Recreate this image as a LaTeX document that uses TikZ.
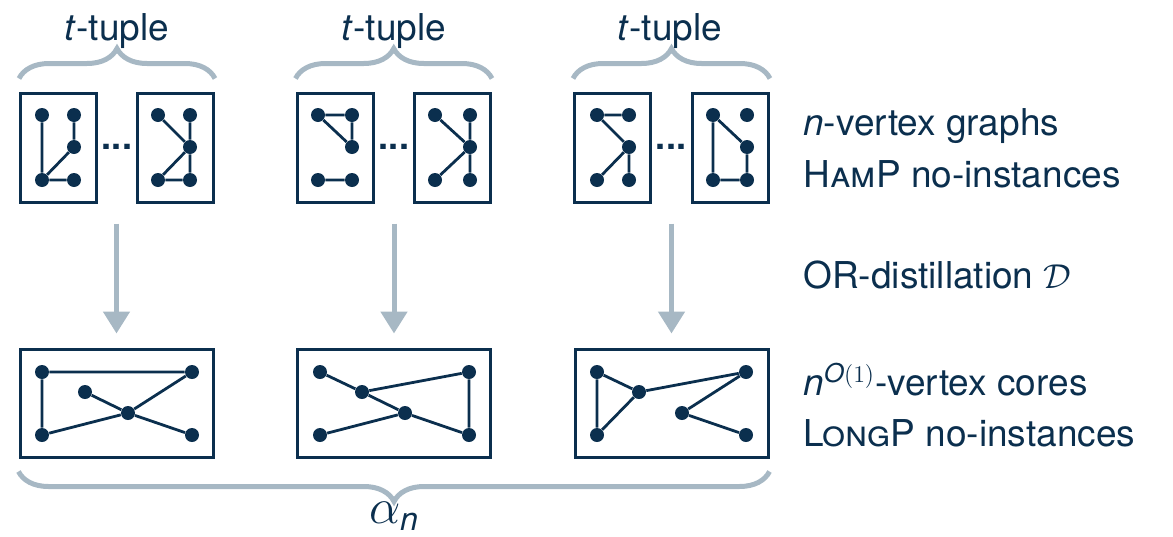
\documentclass[tikz,border=0pt]{standalone}
\usepackage{amsmath}
\usepackage{fontspec}
\setmainfont{TeX Gyre Heros}
\usetikzlibrary{arrows.meta,positioning,decorations.pathreplacing}
\definecolor{cInk}{HTML}{0B2F4E}
\definecolor{cFlow}{HTML}{A7B8C4}

\begin{document}
\begin{tikzpicture}[
    x=0.5pt, y=-0.5pt,
    font=\fontsize{18.5}{22}\selectfont,
    every node/.style={text=cInk},
    inst/.style={draw=cInk, line width=1.5pt, inner sep=0pt,
                 minimum width=38pt, minimum height=54.5pt},
    core/.style={inst, minimum width=96.5pt, minimum height=54pt},
    vx/.style={circle, fill=cInk, inner sep=0pt, minimum size=7pt},
    link/.style={draw=cInk, line width=1.4pt},
    flow/.style={draw=cFlow, line width=2.5pt, -{Triangle[width=13pt,length=11pt]}},
    brc/.style={draw=cFlow, line width=2.5pt, decorate,
                decoration={brace, amplitude=15pt}},
    dots/.style={font=\fontsize{18}{21}\selectfont\bfseries},
    lbl/.style={anchor=base west, inner sep=0pt}
]
\useasboundingbox (0,0) rectangle (1173,536);

% --- t-tuples of input graphs ---
\node[inst] (ham1) at (58.5,147.5) {};
\node[inst] (ham2) at (175.5,147.5) {};
\node[inst] (ham3) at (335,147.5) {};
\node[inst] (ham4) at (452.5,147.5) {};
\node[inst] (ham5) at (612.5,147.5) {};
\node[inst] (ham6) at (730.5,147.5) {};
\node[dots] (dots1) at (117,147) {...};
\node[dots] (dots2) at (394,147) {...};
\node[dots] (dots3) at (671,147) {...};

% vertices of the small graphs
\node[vx] (a1) at (42,115) {}; \node[vx] (a2) at (74,115) {}; \node[vx] (a3) at (74,147) {};
\node[vx] (a4) at (42,180) {}; \node[vx] (a5) at (74,180) {};
\node[vx] (b1) at (158,115) {}; \node[vx] (b2) at (190,115) {}; \node[vx] (b3) at (190,147) {};
\node[vx] (b4) at (158,180) {}; \node[vx] (b5) at (190,180) {};
\node[vx] (c1) at (318,115) {}; \node[vx] (c2) at (352,115) {}; \node[vx] (c3) at (352,147) {};
\node[vx] (c4) at (318,180) {}; \node[vx] (c5) at (352,180) {};
\node[vx] (d1) at (435,115) {}; \node[vx] (d2) at (470,115) {}; \node[vx] (d3) at (470,147) {};
\node[vx] (d4) at (435,180) {}; \node[vx] (d5) at (470,180) {};
\node[vx] (e1) at (597,115) {}; \node[vx] (e2) at (629,115) {}; \node[vx] (e3) at (629,147) {};
\node[vx] (e4) at (597,180) {}; \node[vx] (e5) at (629,180) {};
\node[vx] (f1) at (713,115) {}; \node[vx] (f2) at (747,115) {}; \node[vx] (f3) at (747,147) {};
\node[vx] (f4) at (713,180) {}; \node[vx] (f5) at (747,180) {};

\draw[link] (a1) -- (a4) (a2) -- (a3) (a3) -- (a4) (a4) -- (a5);
\draw[link] (b1) -- (b3) (b2) -- (b3) (b3) -- (b5) (b3) -- (b4) (b4) -- (b5);
\draw[link] (c1) -- (c2) (c1) -- (c3) (c2) -- (c3) (c4) -- (c5);
\draw[link] (d1) -- (d3) (d2) -- (d3) (d3) -- (d5) (d3) -- (d4);
\draw[link] (e1) -- (e2) (e1) -- (e3) (e3) -- (e4) (e3) -- (e5);
\draw[link] (f1) -- (f3) (f1) -- (f4) (f3) -- (f5) (f4) -- (f5);

% --- distilled cores ---
\node[core] (core1) at (116.5,403) {};
\node[core] (core2) at (394,403) {};
\node[core] (core3) at (671.5,403) {};

\node[vx] (p1) at (42,372) {}; \node[vx] (p2) at (192,372) {}; \node[vx] (p3) at (85,392) {};
\node[vx] (p4) at (128,413) {}; \node[vx] (p5) at (42,435) {}; \node[vx] (p6) at (192,435) {};
\node[vx] (q1) at (320,372) {}; \node[vx] (q2) at (469,372) {}; \node[vx] (q3) at (362,392) {};
\node[vx] (q4) at (405,413) {}; \node[vx] (q5) at (320,435) {}; \node[vx] (q6) at (469,435) {};
\node[vx] (r1) at (597,372) {}; \node[vx] (r2) at (746,372) {}; \node[vx] (r3) at (639,392) {};
\node[vx] (r4) at (682,413) {}; \node[vx] (r5) at (597,435) {}; \node[vx] (r6) at (746,435) {};

\draw[link] (p1) -- (p2) (p1) -- (p5) (p5) -- (p4) (p4) -- (p2) (p3) -- (p4) (p4) -- (p6);
\draw[link] (q1) -- (q3) (q3) -- (q4) (q4) -- (q6) (q6) -- (q2) (q2) -- (q3) (q4) -- (q5);
\draw[link] (r1) -- (r5) (r1) -- (r3) (r3) -- (r5) (r3) -- (r2) (r2) -- (r4) (r4) -- (r6);

% --- braces ---
\draw[brc] ([yshift=6.5pt]ham1.north west) -- ([yshift=6.5pt]ham2.north east);
\draw[brc] ([yshift=6.5pt]ham3.north west) -- ([yshift=6.5pt]ham4.north east);
\draw[brc] ([yshift=6.5pt]ham5.north west) -- ([yshift=6.5pt]ham6.north east);
\draw[brc] ([yshift=-6.5pt]core3.south east) -- ([yshift=-6.5pt]core1.south west);

\node[anchor=base] (tup1) at (117,40) {\textit{t}-tuple};
\node[anchor=base] (tup2) at (394,40) {\textit{t}-tuple};
\node[anchor=base] (tup3) at (670,40) {\textit{t}-tuple};
\node[anchor=base, font=\fontsize{23}{26}\selectfont] (alph) at (394,523)
  {$\alpha_{\textit{n}}$};

% --- distillation arrows ---
\draw[flow] ([yshift=-10pt]ham1.south -| core1.north) -- ([yshift=7pt]core1.north);
\draw[flow] ([yshift=-10pt]ham3.south -| core2.north) -- ([yshift=7pt]core2.north);
\draw[flow] ([yshift=-10pt]ham5.south -| core3.north) -- ([yshift=7pt]core3.north);

% --- side labels ---
\node[lbl] (in1) at (803,135) {\textit{n}-vertex graphs};
\node[lbl] (in2) at (803,187) {\textsc{Ham}P no-instances};
\node[lbl] (dist) at (803,288) {OR-distillation $\mathcal{D}$};
\node[lbl] (out1) at (803,395) {$\textit{n}^{\textit{O}(1)}$-vertex cores};
\node[lbl] (out2) at (803,446) {\textsc{Long}P no-instances};

\end{tikzpicture}
\end{document}
